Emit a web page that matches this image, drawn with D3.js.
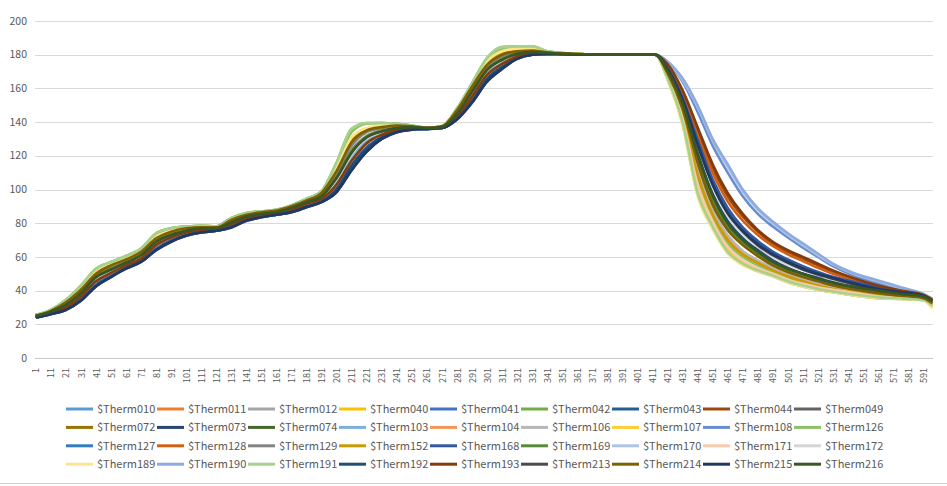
<!DOCTYPE html>
<html>
<head>
<meta charset="utf-8">
<script src="https://cdn.jsdelivr.net/npm/d3@7"></script>
<style>
  body { margin: 0; background: #fff; }
  svg { display: block; font-family: "Noto Sans CJK SC", "Noto Sans", sans-serif; }
</style>
</head>
<body>
<div id="chart"></div>
<script>
const sampleCats = [1,11,21,31,41,51,61,71,81,91,101,111,121,131,141,151,161,171,181,191,201,211,221,231,241,251,261,271,281,291,301,311,321,331,341,351,381,413,421,431,441,451,461,471,481,491,501,511,521,531,546,561,576,591,597];
const categoryCount = 597;
const xTickLabels = [1,11,21,31,41,51,61,71,81,91,101,111,121,131,141,151,161,171,181,191,201,211,221,231,241,251,261,271,281,291,301,311,321,331,341,351,361,371,381,391,401,411,421,431,441,451,461,471,481,491,501,511,521,531,541,551,561,571,581,591];
const yTicks = [0,20,40,60,80,100,120,140,160,180,200];

const seriesNames = ["$Therm010","$Therm011","$Therm012","$Therm040","$Therm041","$Therm042","$Therm043","$Therm044","$Therm049",
  "$Therm072","$Therm073","$Therm074","$Therm103","$Therm104","$Therm106","$Therm107","$Therm108","$Therm126",
  "$Therm127","$Therm128","$Therm129","$Therm152","$Therm168","$Therm169","$Therm170","$Therm171","$Therm172",
  "$Therm189","$Therm190","$Therm191","$Therm192","$Therm193","$Therm213","$Therm214","$Therm215","$Therm216"];

const seriesColors = ["#5B9BD5","#ED7D31","#A5A5A5","#FFC000","#4472C4","#70AD47","#255E91","#9E480E","#636363",
  "#997300","#264478","#43682B","#7CAFDD","#F1975A","#B7B7B7","#FFCD33","#698ED0","#8CC168",
  "#327DC2","#D26012","#848484","#CC9A00","#335AA1","#5A8A39","#ADC5E7","#F8CBAD","#D5D5D5",
  "#FFE38A","#8FAADC","#A9D18E","#1F4E79","#843C0C","#4B4B4B","#7F6000","#203864","#385723"];

const therm010 = [24.5,27,30.5,37,46,51,55.5,59.5,67.5,72,74.5,76,76.5,79.5,83,85,86,88.5,91.5,95,104,118,128,133,135.5,136.5,136.5,137,144,156,169,175,179.5,181,181,180.5,180,180,170,151,121,96,80,70,62.5,56.5,52.5,49,46.5,44,41.5,39.5,37.5,36,33];
const therm011 = [25,27.5,31.5,38.5,48,52.5,56.5,61,69,73,75.5,77,77,80.5,84,85.5,86.5,89,92.5,96.5,108,123,131.5,135,136.5,137,136.5,137,145.5,158.5,171.5,177.5,181,181.5,181,180.6,180,180,168,146,111,87,72,62.5,57,53,49.5,46.5,44,42,40,38,36.5,35,32];
const therm012 = [25,27.5,31,38,47.5,52,56,60.5,68.5,72.5,75,76.5,77,81.5,84,85.5,86.5,88.5,92,96,106,121,130.5,134.5,136.5,137,136.5,137,144.5,157.5,170.5,176.5,180.5,181.5,181,180.6,180,180,171.5,153,127,103,86,75.5,67.5,61.5,57,53,49.5,47,43.5,41,39,37,34];
const therm040 = [25,28,33,40.5,50,55,58.5,63,71,75,77,77.5,77.5,82,85,86.5,87.5,90,93.5,98,111,128,135,137,138,137.5,136.5,137.5,147,161,174,180,182,182.5,181.5,180.8,180,180,166,141,100,79,64,56.5,52.5,49.5,46,43.5,41.5,40,38,36.5,35.5,34.5,30.5];
const therm041 = [24,26.5,29,34.5,43,48.5,53.5,57.5,64.5,69.5,73,75,75.5,78,82,84,85,87,90,93,99.5,113,123.5,130.5,134.5,135.8,136,136.5,142,152,165,172,178,180,180.5,180.3,180,180,170,150,119,94,78.5,68.5,61.5,55.5,51.5,48.5,46,43.5,41,39,37,35.5,33];
const therm042 = [25.5,28.5,34.5,43,53,57,60.5,65,74,77,78,78.5,78,83,86,87,88,90.5,94.5,99,116,136,139.5,139.5,139,138,136.5,137.5,148,163,178,184.5,185,185,182,181,180,180,165.5,139,97,77,62.5,55.5,51.5,48.5,45,42.5,40.5,39,37,35.5,35,34.5,31.5];
const therm043 = [24,26.5,29.5,35,43.5,49,54,58,65,70,73.5,75.5,76,78.5,82.5,84.5,85.5,87.5,90.5,93.5,100.5,114.5,125,131,134.5,136,136,136.5,142.5,153,166,173,178.5,180.5,180.5,180.3,180,180,172.5,155,129,105,88,77,69,63,58,54,50.5,48,44.5,41.5,39.5,37.5,34.5];
const therm044 = [24.5,27,30,36.5,45.5,50.5,55,59,67,71.5,74.5,76,76.5,79.5,83,85,86,88,91.5,94.5,103,117,127.5,132.5,135.5,136.5,136.5,137,143.5,155,168,174.5,179,181,181,180.5,180,180,174,158,135,113,96,84,75,68,63,59,55,51,46.5,43,40,37.5,35];
const therm049 = [25,27.5,31.5,38.5,48,52.5,56.5,61,69,73,75.5,77,77,80.5,84,85.5,86.5,89,92.5,96,107,122,131,134.5,136.5,137,136.5,137,145,158,171,177,180.5,181.5,181,180.6,180,180,172,154,128,104,87,76,68,62,57.5,53.5,50,47.5,44,41,39,37,34];
const therm072 = [25,28,33.5,41,50.5,55,58.5,63,71.5,75.5,77,77.5,77.5,82,85,86.5,87.5,90,93.5,97.5,110,127,134.5,136.5,138,137.5,136.5,137.5,146.5,160.5,173.5,179.5,182,182.5,181.5,180.8,180,180,167.5,144,108,85,70,61.5,56.5,52,48.5,45.5,43,41,39,37.5,36,35,32];
const therm073 = [24,26,28.5,34,42.5,48,53,57,64,69,72.5,74.5,75.5,77.5,81.5,83.5,85,86.5,89.5,92.5,98.5,111.5,122.5,130,134,135.5,136,136.5,141.5,151.5,164,171.5,177.5,180,180.5,180.3,180,180,170.5,151,121,96,80,70,62.5,56.5,52.5,49.5,47,44.5,42,40,38,36.5,33.5];
const therm074 = [25,27.5,31.5,38.5,48,52.5,56.5,61,69,73,75.5,77,77,80.5,84,85.5,86.5,89,92.5,96,107,122,131,134.5,136.5,137,136.5,137,145,158,171,177,180.5,181.5,181,180.6,180,180,170,150,120,95,79,69,62,56,52,49,46.5,44,41.5,39.5,37.5,36,33];
const therm103 = [24.5,27,30.5,37,46,51,55.5,59.5,67.5,72,74.5,76,76.5,80,83.5,85,86,88,91.5,95,104,118.5,128.5,133,135.5,136.5,136.5,137,144,155.5,168.5,175,179.5,181,181,180.5,180,180,172,153,126,102,85.5,75,67,61,56.5,52.5,49.5,47,43.5,41,39,37,34];
const therm104 = [25,28,33,40.5,50,55,58.5,63,71,75,77,77.5,77.5,82,85,86.5,87.5,90,93.5,98,111,128,135,137,138,137.5,136.5,137.5,147,161,174,180,182,182.5,181.5,180.8,180,180,168,145,110,86,71,62,57,52.5,49,46,43.5,41.5,39.5,37.5,36.3,35,32];
const therm106 = [25,27.5,32,39,48.5,53,57,61.5,69.5,73.5,76,77,77.5,81,84.5,86,87,89.5,93,96.5,108,123.5,132,135.5,137,137,136.5,137,145.5,159,172,178,181,181.5,181,180.6,180,180,169,147,113,88,73,63.5,58,53.5,50,47,44.5,42.5,40,38,36.5,35.5,32.5];
const therm107 = [25,28,33,41,50.5,55.5,59,63.5,71.5,75.5,77,77.5,77.5,82,85,86.5,87.5,90,94,98,112,129,135.5,137.5,138,137.5,136.5,137.5,147.5,161.5,175,181,182.5,183,181.5,180.8,180,180,166.5,142,102,80,65,57.5,53,50,46.5,44,42,40.5,38.5,36.5,35.5,34.5,30];
const therm108 = [24,26.5,29,34.5,43,48.5,53.5,57.5,64.5,69.5,73,75,75.5,78,82,84,85,87,90,93,99.5,113,123.5,130.5,134.5,135.8,136,136.5,142,152,165,172,178,180,180.5,180.3,180,180,175.5,164,146,126,110,96,85.5,78,71.5,65.5,60,54.5,48.5,44.5,41,37.5,34.5];
const therm126 = [25.5,28.5,34,42.5,52.5,57,60,64.5,73.5,77,78,78.5,78,83,86,87,88,90.5,94.5,99,115,134,139,139.5,139,138,136.5,137.5,148,162.5,177,183.5,184.5,184.5,182,181,180,180,167,143,106,83,68,60,55,51,47.5,44.5,42.5,40.5,38.5,37,36,35,31.5];
const therm127 = [24.5,27,30,36.5,45.5,50.5,55,59,67,71.5,74.5,76,76.5,79.5,83,85,86,88,91.5,94.5,103,117,127.5,132.5,135.5,136.5,136.5,137,143.5,155,168,174.5,179,181,181,180.5,180,180,170.5,151.5,123,98,81.5,71,63.5,57.5,53,50,47,44.5,42,40,38,36,33];
const therm128 = [25,27.5,31.5,38.5,48,52.5,56.5,61,69,73,75.5,77,77,80.5,84,85.5,86.5,89,92.5,96,107,122,131,134.5,136.5,137,136.5,137,145,158,171,177,180.5,181.5,181,180.6,180,180,173.5,157,132,110,93,81.5,73,66.5,61.5,57.5,53.5,50,46,42.5,39.5,37.5,34];
const therm129 = [25,28,33,40.5,49.5,54.5,58,62.5,70.5,74.5,76.5,77,78,83,85.5,86.5,87.5,90,93.5,97.5,110,126,134,136.5,137.5,137.5,136.5,137.5,146.5,160,173,179,181.5,182,181.5,180.8,180,180,169.5,149,118,93,77.5,68,61,55.5,51.5,48.5,46,43.5,41,39,37.5,36,33];
const therm152 = [25,28,33.5,41,50,55,58.5,63,71,75,77,77.5,77.5,82,85,86.5,87.5,90,93.5,98,111.5,129,135.5,137,138,137.5,136.5,137.5,147,161,174.5,180.5,182,182.5,181.5,180.8,180,180,167.5,144.5,109,85,70,61.5,56.5,52,48.5,45.5,43,41,39,37.5,36,35,31.5];
const therm168 = [24,26.5,29,34.5,43,48.5,53.5,57.5,64.5,69.5,73,75,75.5,78,82,84,85,87,90,93,99.5,113,123.5,130.5,134.5,135.8,136,136.5,142,152,165,172,178,180,180.5,180.3,180,180,172,154.5,129.5,106,89,77.5,69.5,63,58.5,54.5,51,48,45,42,39.5,37.5,34.5];
const therm169 = [25,27.5,31.5,38.5,48.5,53,57,61.5,69.5,73.5,75.5,77,77,80.5,84,85.5,86.5,89,92.5,96.5,107.5,123,131.5,135,136.5,137,136.5,137,145.5,158.5,171.5,177.5,180.5,181.5,181,180.6,180,180,169.5,149,118.5,94,78,68.5,61.5,55.5,51.5,48.5,46,43.5,41,39.5,37.5,36,33.5];
const therm170 = [24.5,27,30,36.5,45.5,50.5,55,59,67,71.5,74.5,76,76.5,79.5,83,85,86,88,91.5,94.5,103,117,127.5,132.5,135.5,136.5,136.5,137,143.5,155,168,174.5,179,181,181,180.5,180,180,176,165,149,129,113.5,99,88,80,73,67,61,55.5,49.5,45.5,41.5,38,35];
const therm171 = [25,27.5,31.5,38.5,48,52.5,56.5,61,69,73,75.5,77,77,80.5,84,85.5,86.5,89,92.5,96,107,122,131,134.5,136.5,137,136.5,137,145,158,171,177,180.5,181.5,181,180.6,180,180,167,142,103,81,66,58,53.5,50,46.5,44,42,40.5,38.5,36.5,35.5,34.5,31.5];
const therm172 = [25,27.5,31.5,38,47.5,52,56,60.5,68.5,72.5,75,76.5,77,80.5,83.5,85.5,86.5,88.5,92,95.5,106,121,130.5,134,136.5,137,136.5,137,144.5,157,170.5,176.5,180,181.5,181,180.6,180,180,171,152,125,101,84,73.5,66,60,55.5,52,49,46.5,43,40.5,38.5,36.5,33.5];
const therm189 = [25,28,33.5,41.5,51,55.5,59,63.5,72,75.5,77,77.5,77.5,82,85,86.5,87.5,90,94,98.5,113,131,136.5,138,138.5,137.5,136.5,137.5,147.5,162,176,182,183.5,183.5,181.5,180.8,180,180,165,138,96,76.5,62,55,51.5,48.5,45,42.5,40.5,39,37,35.5,35,34,29.5];
const therm190 = [24,26.5,29,34.5,43,48.5,53.5,57.5,64.5,69.5,73,75,75.5,78,82,84,85,87,90,93,99.5,113,123.5,130.5,134.5,135.8,136,136.5,142,152,165,172,178,180,180.5,180.3,180,180,176,166,150,130,115,100,89,81,74,68,62,56,50,46,42,38,35];
const therm191 = [25.5,28.5,34.5,43,53,57,60.5,65,74,77,78,78.5,78,83,86,87,88,90.5,94.5,99,116,136,139.5,139.5,139,138,136.5,137.5,148,163,178,184.5,185,185,182,181,180,180,166,140,98,78,63,56,52,49,45.5,43,41,39.5,37.5,36,35.3,34.5,31];
const therm192 = [24,26.5,29,34.5,43,48.5,53.5,57.5,64.5,69.5,73,75,75.5,78,82,84,85,87,90,93,100,114,124,131,134.5,136,136,136.5,142,152.5,165.5,172.5,178,180,180.5,180.3,180,180,170,150.5,121.5,97,81,71,64,58,53.5,50,47.5,45,42,40,38,36.5,33.5];
const therm193 = [24.5,27,30,36.5,45.5,50.5,55,59,67,71.5,74.5,76,76.5,79.5,83,85,86,88,91.5,94.5,103,117,127.5,132.5,135.5,136.5,136.5,137,143.5,155,168,174.5,179,181,181,180.5,180,180,174.5,159,137,115,98,85.5,76,69,64,60,56,52,47,43,40,37.5,34.5];
const therm213 = [25,27.5,31.5,38.5,48,52.5,56.5,61,69,73,75.5,77,77,80.5,84,85.5,86.5,89,92.5,96,107,122,131,134.5,136.5,137,136.5,137,145,158,171,177,180.5,181.5,181,180.6,180,180,171.5,153,126.5,103,86,75,67,61,56.5,52.5,49.5,47,43.5,41,39,37,34];
const therm214 = [25,28,33,40.5,50,55,58.5,63,71,75,77,77.5,77.5,82,85,86.5,87.5,90,93.5,98,111,128,135,137,138,137.5,136.5,137.5,147,161,174,180,182,182.5,181.5,180.8,180,180,169,148,116,91,76,67,60.5,55,51,48,45.5,43,40.5,38.5,37,35.5,32.5];
const therm215 = [24,26,28.5,34,42.5,48,53,57,64,69,72.5,74.5,75.5,77.5,81.5,83.5,85,86.5,89.5,92.5,98.5,111.5,122.5,130,134,135.5,136,136.5,141.5,151.5,164,171.5,177.5,180,180.5,180.3,180,180,171.5,153.5,127,103,86,75.5,67.5,61.5,57,53,50,47.5,44,41,39,37,34];
const therm216 = [25,27.5,31.5,38.5,48,52.5,56.5,61,69,73,75.5,77,77,80.5,84,85.5,86.5,89,92.5,96,107,122,131,134.5,136.5,137,136.5,137,145,158,171,177,180.5,181.5,181,180.6,180,180,170.5,151,121,96.5,80,70,63,57,53,50,47,44.5,42,40,38,36.5,34];

const seriesValues = [therm010, therm011, therm012, therm040, therm041, therm042, therm043, therm044, therm049,
  therm072, therm073, therm074, therm103, therm104, therm106, therm107, therm108, therm126,
  therm127, therm128, therm129, therm152, therm168, therm169, therm170, therm171, therm172,
  therm189, therm190, therm191, therm192, therm193, therm213, therm214, therm215, therm216];

seriesValues.forEach((vals, i) => {
  if (vals.length !== sampleCats.length) throw new Error(seriesNames[i] + " has " + vals.length + " values");
});

const width = 947, height = 486;
const plot = { left: 35, right: 933, top: 21, bottom: 358 };

const svg = d3.select('#chart').append('svg')
  .attr('width', width)
  .attr('height', height);

const x = d3.scaleLinear().domain([0.5, categoryCount + 0.5]).range([plot.left, plot.right]);
const y = d3.scaleLinear().domain([0, 200]).range([plot.bottom, plot.top]);

// horizontal gridlines
svg.append('g')
  .selectAll('line')
  .data(yTicks)
  .join('line')
  .attr('x1', plot.left)
  .attr('x2', plot.right)
  .attr('y1', d => Math.round(y(d)) + 0.5)
  .attr('y2', d => Math.round(y(d)) + 0.5)
  .attr('stroke', d => d === 0 ? '#c8c8c8' : '#d9d9d9')
  .attr('stroke-width', 1);

// y labels
svg.append('g')
  .selectAll('text')
  .data(yTicks)
  .join('text')
  .attr('x', 27)
  .attr('y', d => y(d))
  .attr('dy', '0.35em')
  .attr('text-anchor', 'end')
  .attr('fill', '#595959')
  .style('font-size', '10.5px')
  .text(d => d);

// x labels, rotated
const xAxis = d3.axisBottom(x).tickValues(xTickLabels).tickSize(0).tickPadding(0);
const xg = svg.append('g')
  .attr('transform', `translate(0, ${plot.bottom})`)
  .call(xAxis);
xg.select('.domain').remove();
xg.selectAll('text')
  .attr('transform', 'translate(0, 10) rotate(-90)')
  .attr('y', 0)
  .attr('x', 0)
  .attr('dy', '0.35em')
  .attr('text-anchor', 'end')
  .attr('fill', '#595959')
  .style('font-size', '9px')
  .style('font-family', '"Noto Sans CJK SC", "Noto Sans", sans-serif');

// series lines
const line = d3.line()
  .x((d, i) => x(sampleCats[i]))
  .y(d => y(d))
  .curve(d3.curveMonotoneX);

svg.append('g')
  .selectAll('path')
  .data(seriesValues)
  .join('path')
  .attr('d', line)
  .attr('fill', 'none')
  .attr('stroke', (d, i) => seriesColors[i])
  .attr('stroke-width', 2.6)
  .attr('stroke-linejoin', 'round');

// legend
const legend = svg.append('g')
  .selectAll('g')
  .data(seriesNames)
  .join('g')
  .attr('transform', (d, i) => `translate(${66 + (i % 9) * 91}, ${409 + Math.floor(i / 9) * 18.4})`);

legend.append('line')
  .attr('x1', 0).attr('x2', 27)
  .attr('y1', 0).attr('y2', 0)
  .attr('stroke', (d, i) => seriesColors[i])
  .attr('stroke-width', 3);

legend.append('text')
  .attr('x', 31)
  .attr('dy', '0.35em')
  .attr('fill', '#595959')
  .style('font-size', '11px')
  .text(d => d);

// bottom frame line
svg.append('line')
  .attr('x1', 0).attr('x2', width)
  .attr('y1', 483.5).attr('y2', 483.5)
  .attr('stroke', '#d0d0d0');
</script>
</body>
</html>
